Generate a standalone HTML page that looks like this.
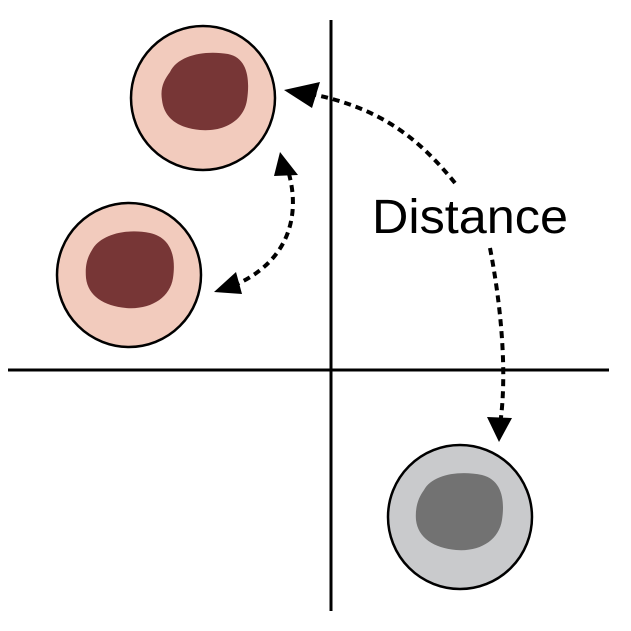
<!DOCTYPE html>
<html><head><meta charset="utf-8"><style>
html,body{margin:0;padding:0;background:#fff;width:631px;height:631px;overflow:hidden}
svg{display:block}
</style></head><body>
<svg width="631" height="631" viewBox="0 0 631 631">
<line x1="331" y1="20" x2="331" y2="611" stroke="#000" stroke-width="3"/>
<line x1="8" y1="370" x2="609" y2="370" stroke="#000" stroke-width="3"/>

<g>
<circle cx="203" cy="98" r="72" fill="#f2cbbd" stroke="#000" stroke-width="2.5"/>
<path d="M170,72 C178,55 205,50 228,54 C248,58 250,80 247,100 C244,120 225,132 200,130 C178,128 164,118 162,100 C160,88 164,80 170,72 Z" fill="#773636"/>
</g>
<g>
<circle cx="129" cy="275" r="72" fill="#f2cbbd" stroke="#000" stroke-width="2.5"/>
<path d="M92,250 C100,235 125,228 150,233 C172,238 176,258 173,278 C170,298 150,310 126,308 C104,306 88,296 86,278 C85,266 87,258 92,250 Z" fill="#773636"/>
</g>
<g>
<circle cx="460" cy="517" r="72" fill="#c9cacc" stroke="#000" stroke-width="2.5"/>
<path d="M424,490 C432,475 458,470 482,475 C502,480 505,500 502,520 C499,540 480,552 456,550 C434,548 418,538 416,520 C415,508 418,498 424,490 Z" fill="#727272"/>
</g>

<g fill="none" stroke="#000" stroke-width="4" stroke-dasharray="7,5">
<path d="M455,183 C420,140 380,105 300,92"/>
<path d="M285,162 C300,200 300,260 228,288"/>
<path d="M490,248 C500,300 508,370 500,425"/>
</g>
<g fill="#000">
<polygon points="284,90 320,82 312,108"/>
<polygon points="280,152 298,175 274,176"/>
<polygon points="214,292 236,272 242,294"/>
<polygon points="499,442 487,417 512,418"/>
</g>
<text x="372" y="233" font-family="Liberation Sans, sans-serif" font-size="48" textLength="196" lengthAdjust="spacingAndGlyphs" fill="#000">Distance</text>
</svg>
</body></html>
